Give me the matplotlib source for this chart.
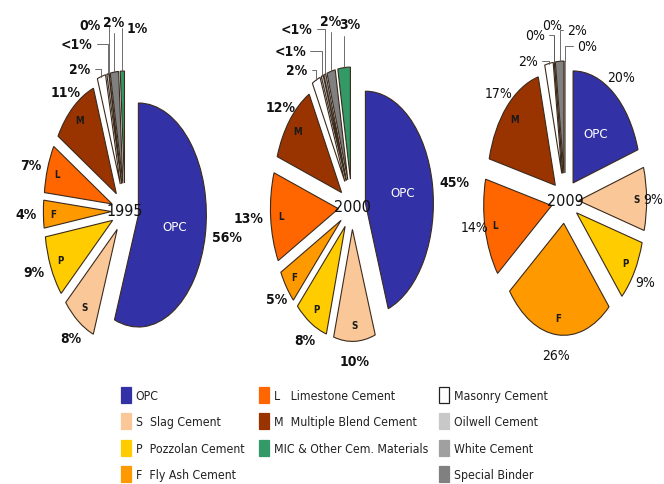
import matplotlib
matplotlib.use('Agg')
import matplotlib.pyplot as plt
from matplotlib import font_manager
from matplotlib.patches import Patch
import numpy as np

# ---------------- data ----------------
years = ['1995', '2000', '2009']
codes = ['OPC', 'S', 'P', 'F', 'L', 'M', '', '', '', '', '']
legend_labels = ['OPC', 'S  Slag Cement', 'P  Pozzolan Cement', 'F  Fly Ash Cement',
                 'L   Limestone Cement', 'M  Multiple Blend Cement',
                 'Masonry Cement', 'Oilwell Cement', 'White Cement', 'Special Binder',
                 'MIC & Other Cem. Materials']
colors = ['#3232A6', '#FAC898', '#FFCC00', '#FF9900', '#FF6600', '#993300',
          '#FFFFFF', '#C8C8C8', '#A0A0A0', '#808080', '#339966']

values_1995 = [56, 8, 9, 4, 7, 11, 2, 0.5, 0, 2, 1]
values_2000 = [45, 10, 8, 5, 13, 12, 2, 0.5, 0.5, 2, 3]
values_2009 = [20, 9, 9, 26, 14, 17, 2, 0, 0, 2, 0]

pct_1995 = ['56%', '8%', '9%', '4%', '7%', '11%', '2%', '<1%', '0%', '2%', '1%']
pct_2000 = ['45%', '10%', '8%', '5%', '13%', '12%', '2%', '<1%', '<1%', '2%', '3%']
pct_2009 = ['20%', '9%', '9%', '26%', '14%', '17%', '2%', '0%', '0%', '2%', '0%']

# ---------------- fonts ----------------
ttf = font_manager.fontManager.ttflist
names = {f.name for f in ttf}
NARROW = False
if 'Liberation Sans Narrow' in names:
    FONT = 'Liberation Sans Narrow'
    NARROW = True
elif any(f.name == 'DejaVu Sans' and str(f.stretch) in ('condensed', '75', 'semi-condensed')
         for f in ttf):
    FONT = 'DejaVu Sans'
    plt.rcParams['font.stretch'] = 'condensed'
    NARROW = True
else:
    FONT = 'Liberation Sans'
plt.rcParams['font.family'] = [FONT, 'DejaVu Sans']

# ---------------- style / layout ----------------
W_PX, H_PX = 664, 485
RX, RY = 68.0, 112.0          # pixels per data unit (horizontal / vertical)
A, B = 1.45, 1.8              # half-extent of each pie axes in data units
EDGE = '#3b2a1c'
PCT_FS = 10 if NARROW else 9.5
LEG_FS = 8.8 if NARROW else 8.5

centers = [(125, 212), (352, 208), (565, 202)]   # pixel centres of pies
side_r = [1.3, 1.3, 1.15]
bold = [True, True, False]
small_pos = [
    [(-0.66, 1.27), (-0.71, 1.49), (-0.51, 1.66), (-0.17, 1.69), (0.18, 1.63)],
    [(-0.81, 1.22), (-0.91, 1.39), (-0.81, 1.59), (-0.32, 1.66), (-0.03, 1.63)],
    [(-0.54, 1.25), (-0.44, 1.48), (-0.19, 1.57), (0.18, 1.53), (0.32, 1.38)],
]

fig = plt.figure(figsize=(W_PX / 100, H_PX / 100), dpi=100)


def draw_pie(idx, values, pcts):
    cx, cy = centers[idx]
    w, h = 2 * A * RX, 2 * B * RY
    ax = fig.add_axes([(cx - w / 2) / W_PX, ((H_PX - cy) - h / 2) / H_PX, w / W_PX, h / H_PX])
    explode = [0.2] * 6 + [0.25] * 5
    wedges, _ = ax.pie(values, colors=colors, explode=explode, startangle=90,
                       counterclock=False,
                       wedgeprops=dict(edgecolor=EDGE, linewidth=0.8))
    ax.set_aspect('auto')
    ax.set_xlim(-A, A)
    ax.set_ylim(-B, B)
    ax.axis('off')
    fw = 'bold' if bold[idx] else 'normal'
    for i, wd in enumerate(wedges):
        mid = np.deg2rad((wd.theta1 + wd.theta2) / 2)
        d = np.array([np.cos(mid), np.sin(mid)])
        if i < 6:
            if i == 0:
                p = 0.75 * d
                ax.text(p[0], p[1], codes[i], color='white', fontsize=PCT_FS - 0.5,
                        ha='center', va='center')
            else:
                p = 1.05 * d
                ax.text(p[0], p[1], codes[i], color='#1a1a1a', fontsize=PCT_FS - 3,
                        fontweight='bold', ha='center', va='center')
            if d[0] > 0.9:
                p = side_r[idx] * d
                ha = 'left'
            elif d[0] < -0.9:
                p = side_r[idx] * d
                ha = 'right'
            else:
                p = 1.38 * d
                ha = 'center'
            ax.text(p[0], p[1], pcts[i], fontsize=PCT_FS, fontweight=fw,
                    ha=ha, va='center', color='#111111')
        else:
            tip = np.array(wd.center) + wd.r * d
            ax.annotate(pcts[i], xy=tip, xytext=small_pos[idx][i - 6],
                        fontsize=PCT_FS, fontweight=fw, ha='center', va='center',
                        color='#111111',
                        arrowprops=dict(arrowstyle='-', color='#555555', lw=0.6,
                                        shrinkA=1, shrinkB=0,
                                        connectionstyle='angle,angleA=0,angleB=90,rad=0'))
    ax.text(0, 0, years[idx], fontsize=PCT_FS + 1.5, ha='center', va='center',
            color='#111111', fontweight='normal')


draw_pie(0, values_1995, pct_1995)
draw_pie(1, values_2000, pct_2000)
draw_pie(2, values_2009, pct_2009)

# ---------------- legend ----------------
handles = [Patch(facecolor=c, edgecolor=('#222222' if c == '#FFFFFF' else c), linewidth=0.9)
           for c in colors]
groups = [[0, 1, 2, 3], [4, 5, 10], [6, 7, 8, 9]]
leg_x = [121, 259, 439]
for g, x in zip(groups, leg_x):
    leg = fig.legend([handles[i] for i in g], [legend_labels[i] for i in g],
                     loc='upper left', bbox_to_anchor=(x / W_PX, 1 - 388 / H_PX),
                     frameon=False, fontsize=LEG_FS, handlelength=0.8,
                     handleheight=1.6, handletextpad=0.4, labelspacing=0.88,
                     borderpad=0, borderaxespad=0)
    for t in leg.get_texts():
        t.set_color('#222222')

fig.savefig('out.png', dpi=100)
